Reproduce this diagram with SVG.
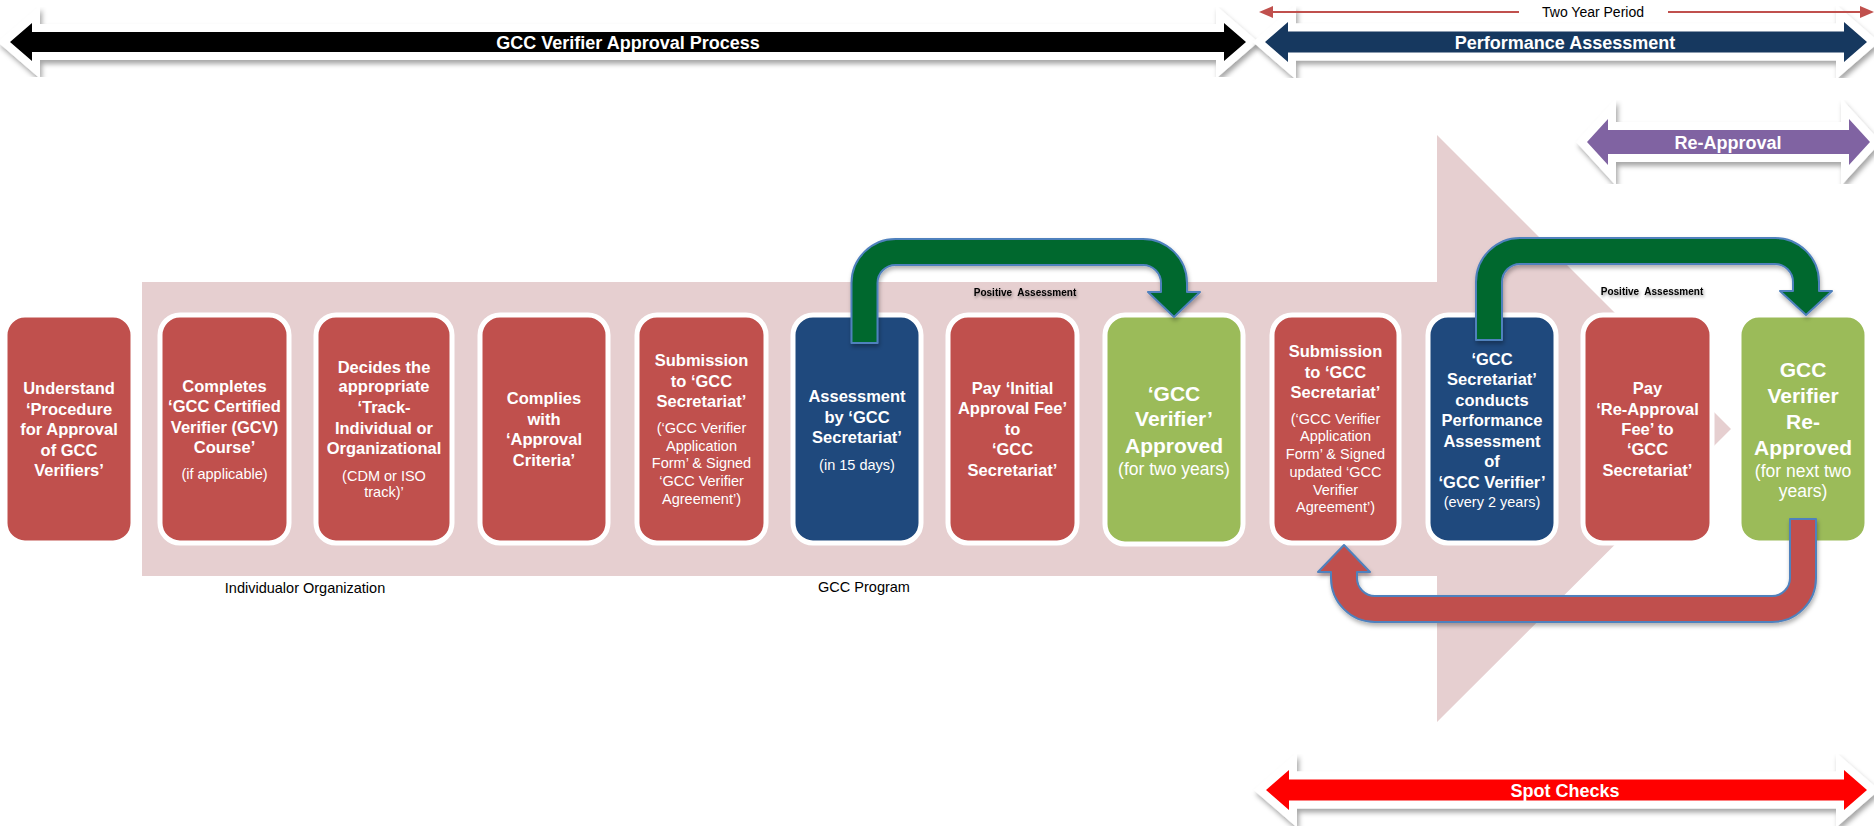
<svg xmlns="http://www.w3.org/2000/svg" width="1874" height="827" viewBox="0 0 1874 827">
<style>
text{font-family:"Liberation Sans",Arial,sans-serif}
.node rect{stroke:#fff;stroke-width:5}
.red{fill:#C0504D}.blue{fill:#1F497D}.green{fill:#9BBB59}
.t{fill:#fff;font-weight:bold;font-size:16.5px;text-anchor:middle}
.s{fill:#fff;font-size:14.5px;text-anchor:middle}
.tb{fill:#fff;font-weight:bold;font-size:21px;text-anchor:middle}
.sb{fill:#fff;font-size:17.5px;text-anchor:middle}
.ban{stroke:#fff;stroke-width:16;stroke-linejoin:miter;stroke-miterlimit:4;paint-order:stroke;filter:url(#sh)}
.bt{fill:#fff;font-weight:bold;font-size:18px;text-anchor:middle}
.lbl{fill:#000;font-size:14.5px;text-anchor:middle}
.pa{fill:#000;font-weight:bold;font-size:10px;text-anchor:middle;filter:url(#tsh)}
.conn{stroke:#4F81BD;stroke-width:2;stroke-linejoin:round;filter:url(#csh)}
</style>
<defs>
<filter id="sh" x="-5%" y="-40%" width="110%" height="180%"><feDropShadow dx="2" dy="4" stdDeviation="2.5" flood-color="#000" flood-opacity="0.35"/></filter>
<filter id="csh" x="-5%" y="-10%" width="110%" height="130%"><feDropShadow dx="1" dy="3" stdDeviation="2" flood-color="#000" flood-opacity="0.3"/></filter>
<filter id="tsh" x="-10%" y="-50%" width="120%" height="200%"><feDropShadow dx="1" dy="2" stdDeviation="1.5" flood-color="#000" flood-opacity="0.4"/></filter>
</defs>

<g id="background-arrow">
<polygon points="142,282 1437,282 1437,135 1731,429 1437,722 1437,576 142,576" fill="#E6CFD0"/>
</g>

<g id="banners">
<g id="banner-approval-process">
<polygon class="ban" fill="#000" points="10,42 32,23 32,32 1224,32 1224,23 1246,42 1224,61 1224,52 32,52 32,61"/>
<text class="bt" x="628" y="48.5">GCC Verifier Approval Process</text>
</g>
<g id="banner-performance">
<polygon class="ban" fill="#17375E" points="1265,42 1288,22 1288,31.5 1844,31.5 1844,22 1867,42 1844,62 1844,52.5 1288,52.5 1288,62"/>
<text class="bt" x="1565" y="48.5">Performance Assessment</text>
</g>
<g id="banner-two-year">
<line x1="1270" y1="12" x2="1519" y2="12" stroke="#C0504D" stroke-width="2"/>
<line x1="1668" y1="12" x2="1863" y2="12" stroke="#C0504D" stroke-width="2"/>
<polygon points="1259,12 1273,6 1273,18" fill="#C0504D"/>
<polygon points="1874,12 1860,6 1860,18" fill="#C0504D"/>
<text x="1593" y="17" style="font-size:14px;text-anchor:middle;fill:#000">Two Year Period</text>
</g>
<g id="banner-reapproval">
<polygon class="ban" fill="#8064A2" points="1587,142 1608,119 1608,130 1849,130 1849,119 1870,142 1849,165 1849,154 1608,154 1608,165"/>
<text class="bt" x="1728" y="148.5">Re-Approval</text>
</g>
<g id="banner-spot-checks">
<polygon class="ban" fill="#FF0000" points="1266,790 1289,770 1289,779.5 1844,779.5 1844,770 1867,790 1844,810 1844,800.5 1289,800.5 1289,810"/>
<text class="bt" x="1565" y="796.5">Spot Checks</text>
</g>
</g>

<g id="labels">
<text class="lbl" x="305" y="593">Individualor Organization</text>
<text class="lbl" x="864" y="592">GCC Program</text>
<text class="pa" x="1025" y="295.5" xml:space="preserve">Positive  Assessment</text>
<text class="pa" x="1652" y="294.5" xml:space="preserve">Positive  Assessment</text>
</g>

<g id="node1" class="node"><rect class="red" x="5" y="315" width="128" height="228" rx="20"/>
<text class="t" x="69" y="394">Understand</text><text class="t" x="69" y="414.5">‘Procedure</text><text class="t" x="69" y="435">for Approval</text><text class="t" x="69" y="456">of GCC</text><text class="t" x="69" y="476">Verifiers’</text></g>

<g id="node2" class="node"><rect class="red" x="160" y="315" width="129" height="228" rx="20"/>
<text class="t" x="224.5" y="392">Completes</text><text class="t" x="224.5" y="412">‘GCC Certified</text><text class="t" x="224.5" y="433">Verifier (GCV)</text><text class="t" x="224.5" y="453">Course’</text><text class="s" x="224.5" y="479">(if applicable)</text></g>

<g id="node3" class="node"><rect class="red" x="316" y="315" width="136" height="228" rx="20"/>
<text class="t" x="384" y="373">Decides the</text><text class="t" x="384" y="392">appropriate</text><text class="t" x="384" y="413">‘Track-</text><text class="t" x="384" y="434">Individual or</text><text class="t" x="384" y="454">Organizational</text><text class="s" x="384" y="481">(CDM or ISO</text><text class="s" x="384" y="497">track)’</text></g>

<g id="node4" class="node"><rect class="red" x="480" y="315" width="128" height="228" rx="20"/>
<text class="t" x="544" y="404">Complies</text><text class="t" x="544" y="425">with</text><text class="t" x="544" y="445">‘Approval</text><text class="t" x="544" y="466">Criteria’</text></g>

<g id="node5" class="node"><rect class="red" x="637" y="315" width="129" height="228" rx="20"/>
<text class="t" x="701.5" y="366">Submission</text><text class="t" x="701.5" y="387">to ‘GCC</text><text class="t" x="701.5" y="407">Secretariat’</text><text class="s" x="701.5" y="433">(‘GCC Verifier</text><text class="s" x="701.5" y="451">Application</text><text class="s" x="701.5" y="468">Form’ &amp; Signed</text><text class="s" x="701.5" y="486">‘GCC Verifier</text><text class="s" x="701.5" y="504">Agreement’)</text></g>

<g id="node6" class="node"><rect class="blue" x="793" y="315" width="128" height="228" rx="20"/>
<text class="t" x="857" y="402">Assessment</text><text class="t" x="857" y="423">by ‘GCC</text><text class="t" x="857" y="443">Secretariat’</text><text class="s" x="857" y="470">(in 15 days)</text></g>

<g id="node7" class="node"><rect class="red" x="948" y="315" width="129" height="228" rx="20"/>
<text class="t" x="1012.5" y="394">Pay ‘Initial</text><text class="t" x="1012.5" y="414">Approval Fee’</text><text class="t" x="1012.5" y="435">to</text><text class="t" x="1012.5" y="455">‘GCC</text><text class="t" x="1012.5" y="476">Secretariat’</text></g>

<g id="node8" class="node"><rect class="green" x="1105" y="315" width="138" height="229" rx="20"/>
<text class="tb" x="1174" y="401">‘GCC</text><text class="tb" x="1174" y="426">Verifier’</text><text class="tb" x="1174" y="453">Approved</text><text class="sb" x="1174" y="475">(for two years)</text></g>

<g id="node9" class="node"><rect class="red" x="1272" y="315" width="127" height="228" rx="20"/>
<text class="t" x="1335.5" y="357">Submission</text><text class="t" x="1335.5" y="378">to ‘GCC</text><text class="t" x="1335.5" y="398">Secretariat’</text><text class="s" x="1335.5" y="424">(‘GCC Verifier</text><text class="s" x="1335.5" y="441">Application</text><text class="s" x="1335.5" y="459">Form’ &amp; Signed</text><text class="s" x="1335.5" y="477">updated ‘GCC</text><text class="s" x="1335.5" y="495">Verifier</text><text class="s" x="1335.5" y="512">Agreement’)</text></g>

<g id="node10" class="node"><rect class="blue" x="1428" y="315" width="128" height="228" rx="20"/>
<text class="t" x="1492" y="365">‘GCC</text><text class="t" x="1492" y="385">Secretariat’</text><text class="t" x="1492" y="406">conducts</text><text class="t" x="1492" y="426">Performance</text><text class="t" x="1492" y="447">Assessment</text><text class="t" x="1492" y="467">of</text><text class="t" x="1492" y="488">‘GCC Verifier’</text><text class="s" x="1492" y="507">(every 2 years)</text></g>

<g id="node11" class="node"><rect class="red" x="1583" y="315" width="129" height="228" rx="20"/>
<text class="t" x="1647.5" y="394">Pay</text><text class="t" x="1647.5" y="415">‘Re-Approval</text><text class="t" x="1647.5" y="435">Fee’ to</text><text class="t" x="1647.5" y="455">‘GCC</text><text class="t" x="1647.5" y="476">Secretariat’</text></g>

<g id="node12" class="node"><rect class="green" x="1739" y="315" width="128" height="228" rx="20"/>
<text class="tb" x="1803" y="377">GCC</text><text class="tb" x="1803" y="403">Verifier</text><text class="tb" x="1803" y="429">Re-</text><text class="tb" x="1803" y="455">Approved</text><text class="sb" x="1803" y="477">(for next two</text><text class="sb" x="1803" y="497">years)</text></g>

<g id="connectors">
<path class="conn" fill="#00682F" d="M851.5,343 V283 A44,44 0 0 1 895.5,239 H1143 A44,44 0 0 1 1187,283 V292 H1200 L1174,317 L1148,292 H1161 V283 A18,18 0 0 0 1143,265 H895.5 A18,18 0 0 0 877.5,283 V343 Z"/>
<path class="conn" fill="#00682F" d="M1476,340 V282 A44,44 0 0 1 1520,238 H1775 A44,44 0 0 1 1819,282 V291 H1832 L1806,315 L1780,291 H1793 V282 A18,18 0 0 0 1775,264 H1520 A18,18 0 0 0 1502,282 V340 Z"/>
<path class="conn" fill="#C0504D" d="M1816,519 V578 A44,44 0 0 1 1772,622 H1375 A44,44 0 0 1 1331,578 V572 H1318 L1344,545 L1370,572 H1357 V578 A18,18 0 0 0 1375,596 H1772 A18,18 0 0 0 1790,578 V519 Z"/>
</g>
</svg>
